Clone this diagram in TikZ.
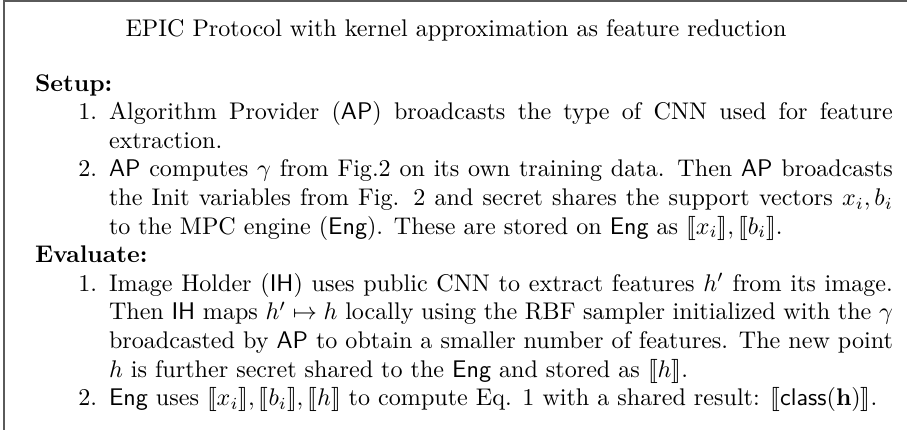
\documentclass[tikz,border=0pt]{standalone}
\usepackage{stmaryrd}
\usepackage{amsmath}
\tikzset{x=0.415pt,y=-0.415pt}
\definecolor{framec}{RGB}{90,90,90}
\tikzset{
  ln/.style={anchor=base west,inner sep=0pt,outer sep=0pt},
  num/.style={anchor=base east,inner sep=0pt,outer sep=0pt},
  frameline/.style={draw=framec,line width=0.8pt}
}
\newcommand{\jl}[1]{\makebox[325.3pt][s]{#1}}
\newcommand{\sfx}[1]{\textsf{#1}}
\begin{document}
\begin{tikzpicture}
\useasboundingbox (0,0) rectangle (907,429);
\draw[frameline] (4,432) -- (4,1) -- (910,1);
\node[anchor=base,inner sep=0pt] (title) at (456,36) {EPIC Protocol with kernel approximation as feature reduction};
\node[ln] (setup) at (35,91) {\textbf{Setup:}};
\node[num] (n1) at (97,119.6) {1.};
\node[ln] (s1a) at (109,119.6) {\jl{Algorithm Provider (\sfx{AP}) broadcasts the type of CNN used for feature}};
\node[ln] (s1b) at (109,148.2) {extraction.};
\node[num] (n2) at (97,176.8) {2.};
\node[ln] (s2a) at (109,176.8) {\jl{\sfx{AP} computes $\gamma$ from Fig.2 on its own training data. Then \sfx{AP} broadcasts}};
\node[ln] (s2b) at (109,205.4) {\jl{the Init variables from Fig. 2 and secret shares the support vectors $x_i, b_i$}};
\node[ln] (s2c) at (109,234.0) {to the MPC engine (\sfx{Eng}). These are stored on \sfx{Eng} as $\llbracket x_i\rrbracket, \llbracket b_i\rrbracket$.};
\node[ln] (eval) at (35,262.6) {\textbf{Evaluate:}};
\node[num] (e1n) at (97,291.2) {1.};
\node[ln] (e1a) at (109,291.2) {\jl{Image Holder (\sfx{IH}) uses public CNN to extract features $h'$ from its image.}};
\node[ln] (e1b) at (109,319.8) {\jl{Then \sfx{IH} maps $h' \mapsto h$ locally using the RBF sampler initialized with the $\gamma$}};
\node[ln] (e1c) at (109,348.4) {\jl{broadcasted by \sfx{AP} to obtain a smaller number of features. The new point}};
\node[ln] (e1d) at (109,377.0) {$h$ is further secret shared to the \sfx{Eng} and stored as $\llbracket h\rrbracket$.};
\node[num] (e2n) at (97,405.6) {2.};
\node[ln] (e2a) at (109,405.6) {\sfx{Eng} uses $\llbracket x_i\rrbracket, \llbracket b_i\rrbracket, \llbracket h\rrbracket$ to compute Eq. 1 with a shared result: $\llbracket\textsf{class}(\mathbf{h})\rrbracket$.};
\end{tikzpicture}
\end{document}
